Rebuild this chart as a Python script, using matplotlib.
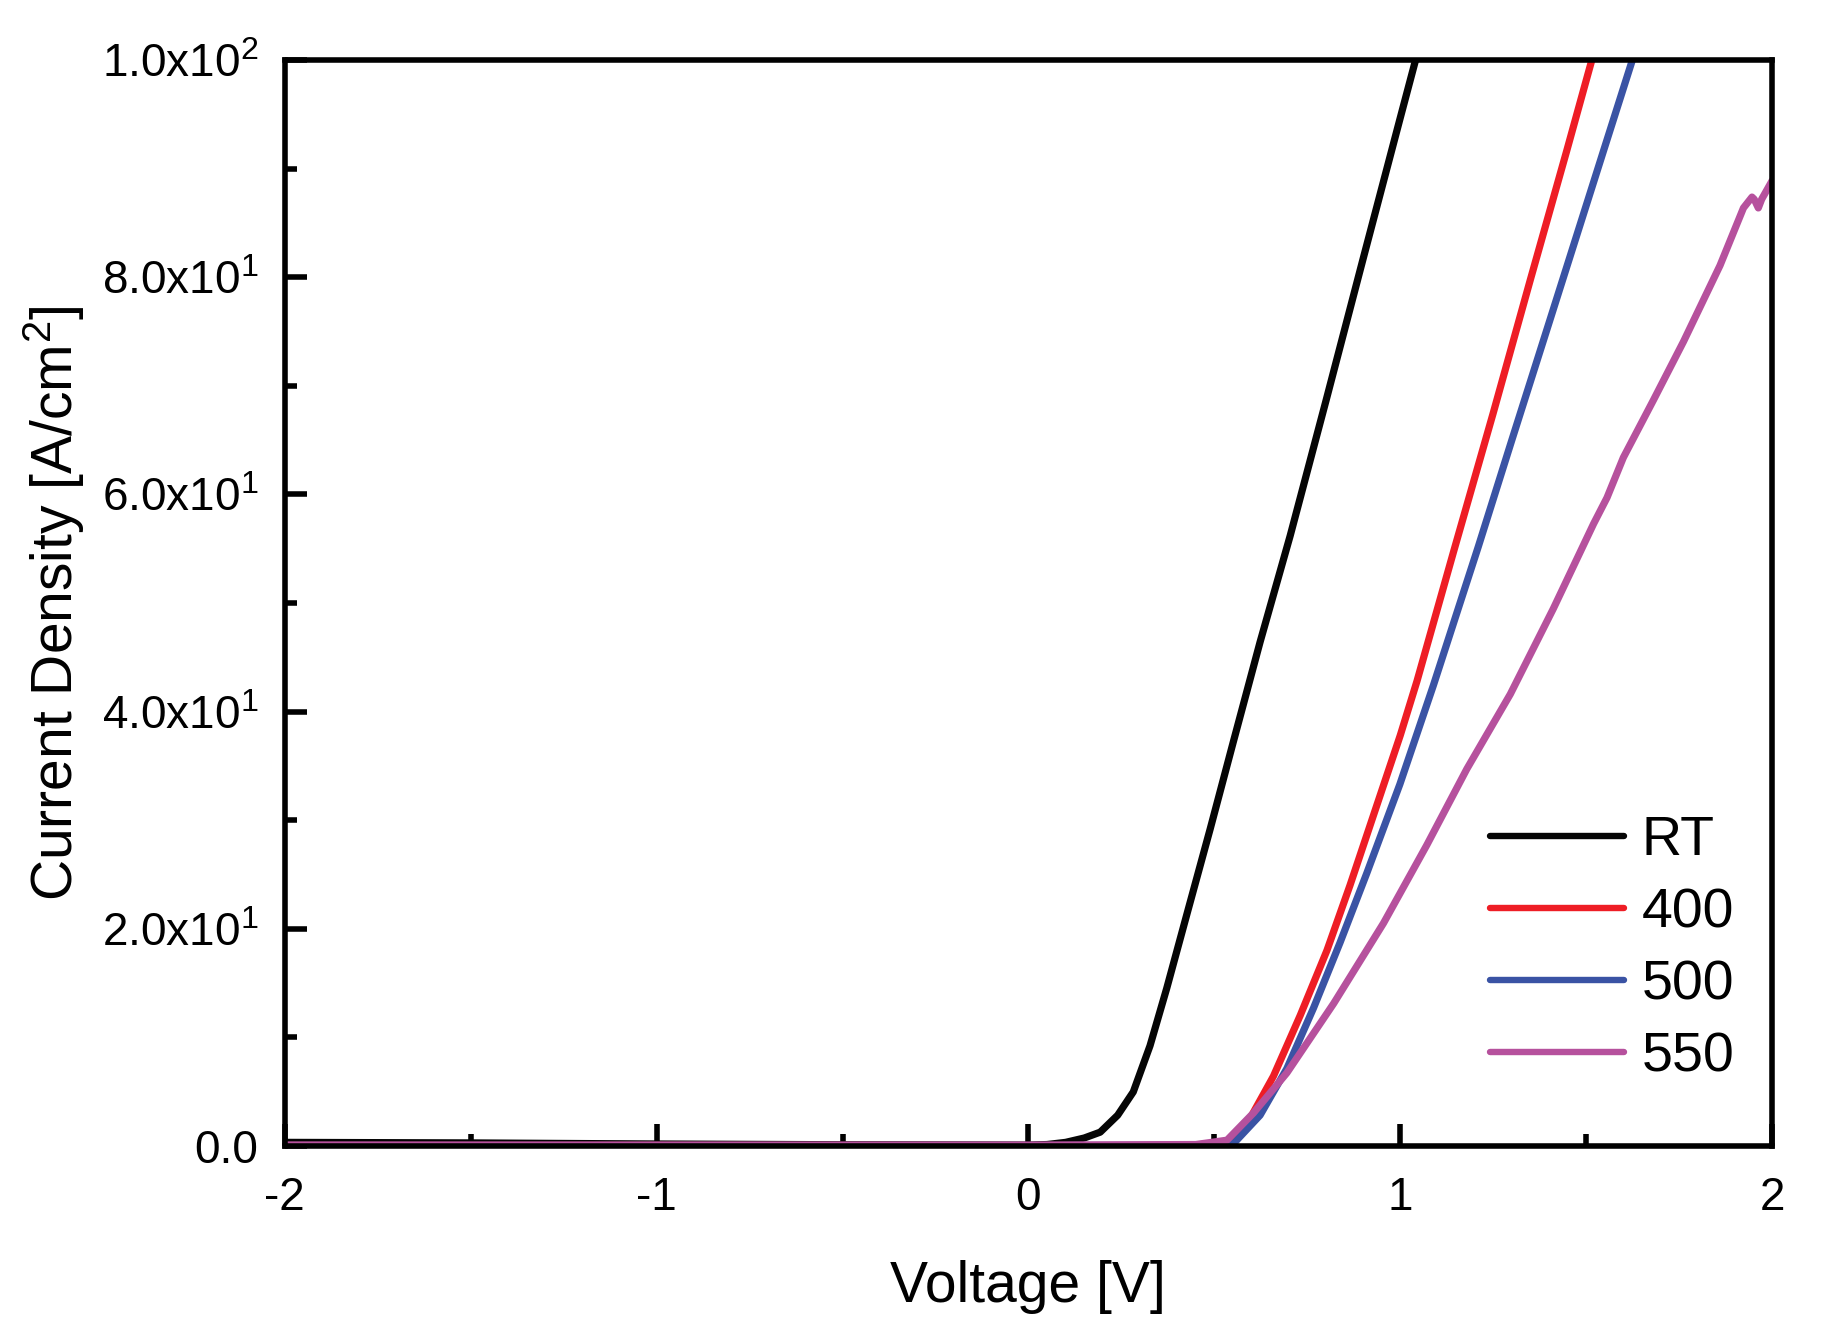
import numpy as np
import matplotlib
matplotlib.use("Agg")
import matplotlib.pyplot as plt
from matplotlib.ticker import MultipleLocator

plt.rcParams['font.family'] = ['Liberation Sans', 'DejaVu Sans']
plt.rcParams['mathtext.fontset'] = 'custom'
plt.rcParams['mathtext.rm'] = 'Liberation Sans'
plt.rcParams['mathtext.it'] = 'Liberation Sans'

# J-V curves (V in volts, J in A/cm2)
v_rt = [-2.0, -1.5, -1.0, -0.5, 0.0, 0.05, 0.10, 0.15, 0.193, 0.24, 0.282, 0.327,
        0.372, 0.426, 0.489, 0.551, 0.623, 0.704, 0.80, 0.90, 1.00, 1.041]
j_rt = [0.3, 0.25, 0.15, 0.08, 0.05, 0.1, 0.3, 0.7, 1.24, 2.8, 4.95, 9.2,
        14.5, 21.3, 29.2, 37.2, 46.4, 56.2, 68.6, 81.7, 94.7, 100.0]

v_400 = [-2.0, -1.0, 0.0, 0.3, 0.45, 0.534, 0.596, 0.659, 0.731, 0.803, 0.865,
         0.955, 1.0, 1.045, 1.144, 1.25, 1.35, 1.448, 1.515]
j_400 = [0.02, 0.02, 0.0, 0.0, 0.05, 0.35, 2.5, 6.4, 12.0, 18.0, 24.0,
         33.2, 37.8, 42.8, 54.8, 67.5, 79.8, 91.7, 100.0]

v_500 = [-2.0, 0.0, 0.45, 0.552, 0.623, 0.695, 0.767, 0.838, 0.910, 0.999,
         1.089, 1.21, 1.30, 1.40, 1.547, 1.624]
j_500 = [0.02, 0.0, 0.03, 0.2, 2.8, 7.1, 12.7, 18.7, 25.1, 33.3,
         42.4, 55.2, 65.0, 75.8, 91.7, 100.0]

v_550 = [-2.0, 0.0, 0.45, 0.534, 0.605, 0.695, 0.821, 0.955, 1.0715, 1.179,
         1.296, 1.412, 1.520, 1.556, 1.600, 1.681, 1.762, 1.860, 1.923, 1.946,
         1.952, 1.963, 1.972, 2.0]
j_550 = [0.05, 0.05, 0.1, 0.5, 3.0, 6.7, 13.1, 20.5, 27.7, 34.7,
         41.6, 49.5, 57.3, 59.7, 63.4, 68.7, 74.1, 81.1, 86.4, 87.4,
         87.2, 86.4, 87.2, 88.9]

labels = ["RT", "400", "500", "550"]
colors = ["#050505", "#EE1D25", "#3A53A4", "#B6519D"]

x_ticks = [-2, -1, 0, 1, 2]
x_ticklabels = ["-2", "-1", "0", "1", "2"]
y_ticks = [0, 20, 40, 60, 80, 100]
y_ticklabels = ["0.0", "2.0x10$^{1}$", "4.0x10$^{1}$", "6.0x10$^{1}$",
                "8.0x10$^{1}$", "1.0x10$^{2}$"]

fig = plt.figure(figsize=(18.22, 13.41), dpi=100)
ax = fig.add_axes([0.1563, 0.1457, 0.9726 - 0.1563, 0.955 - 0.1457])

curves = [(v_rt, j_rt), (v_400, j_400), (v_500, j_500), (v_550, j_550)]
for (v, j), lab, col in zip(curves, labels, colors):
    ax.plot(v, j, color=col, lw=5.2, label=lab, solid_capstyle='round',
            solid_joinstyle='round')

ax.set_xlim(-2, 2)
ax.set_ylim(0, 100)
ax.set_xticks(x_ticks)
ax.set_xticklabels(x_ticklabels)
ax.set_yticks(y_ticks)
ax.set_yticklabels(y_ticklabels)
ax.xaxis.set_minor_locator(MultipleLocator(0.5))
ax.yaxis.set_minor_locator(MultipleLocator(10))

for s in ax.spines.values():
    s.set_linewidth(4.0)
ax.tick_params(which='major', direction='in', length=16, width=4.0,
               labelsize=33, top=False, right=False)
ax.tick_params(axis='x', which='major', pad=22)
ax.tick_params(axis='y', which='major', pad=19)
ax.tick_params(which='minor', direction='in', length=8.6, width=4.0,
               top=False, right=False)

ax.set_xlabel("Voltage [V]", fontsize=41, labelpad=29)
ax.set_ylabel("Current Density [A/cm$^{2}$]", fontsize=41, labelpad=11)

leg = ax.legend(loc='upper left', bbox_to_anchor=(0.818, 0.392),
                bbox_transform=fig.transFigure, frameon=False, fontsize=40,
                handlelength=2.4, handletextpad=0.32, labelspacing=0.36,
                borderpad=0, borderaxespad=0)
for line in leg.get_lines():
    line.set_linewidth(4.6)

fig.savefig("out.png", dpi=100)
